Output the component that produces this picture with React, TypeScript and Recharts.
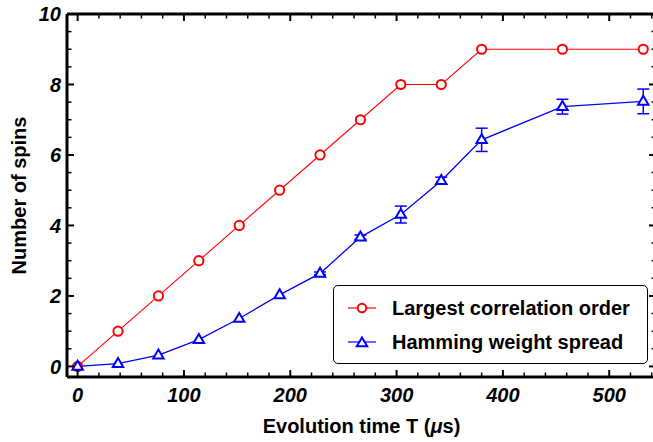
import React from 'react';
import { ComposedChart, Line, XAxis, YAxis, ErrorBar, Legend } from 'recharts';

// ---- data ----
const TIMES = [0, 38, 76, 114, 152, 190, 228, 266, 304, 342, 380, 456, 532];
const LARGEST_ORDER = [0, 1, 2, 3, 4, 5, 6, 7, 8, 8, 9, 9, 9];
const HAMMING_SPREAD = [0, 0.08, 0.32, 0.76, 1.36, 2.03, 2.64, 3.67, 4.31, 5.27, 6.43, 7.37, 7.52];
const HAMMING_ERR = [0, 0, 0, 0, 0, 0, 0.04, 0.06, 0.24, 0.1, 0.33, 0.21, 0.35];

const SERIES_NAMES = ['Largest correlation order', 'Hamming weight spread'];

const X_MAJOR_TICKS = [0, 100, 200, 300, 400, 500];
const X_MINOR_TICKS = [20, 40, 60, 80, 120, 140, 160, 180, 220, 240, 260, 280, 320, 340, 360, 380, 420, 440, 460, 480, 520, 540];
const Y_MAJOR_TICKS = [0, 2, 4, 6, 8, 10];
const Y_MINOR_TICKS = [0.5, 1, 1.5, 2.5, 3, 3.5, 4.5, 5, 5.5, 6.5, 7, 7.5, 8.5, 9, 9.5];

const X_DOMAIN = [-10, 544];
const Y_DOMAIN = [-0.3, 10];

const RED = '#ff0000';
const BLUE = '#0000ff';
const FONT = '"Liberation Sans", Arial, sans-serif';
const FS = 20;

const data = TIMES.map((t, i) => ({
  t,
  order: LARGEST_ORDER[i],
  spread: HAMMING_SPREAD[i],
  err: HAMMING_ERR[i],
}));

const X_ALL = [...X_MAJOR_TICKS, ...X_MINOR_TICKS].sort((a, b) => a - b);
const Y_ALL = [...Y_MAJOR_TICKS, ...Y_MINOR_TICKS].sort((a, b) => a - b);

const makeTick = (side: string, majors: number[]) => (props: any) => {
  const { x, y, payload } = props;
  const v = payload.value;
  const major = majors.includes(v);
  const len = major ? 7 : 4.5;
  const common = { stroke: '#000', strokeWidth: major ? 2 : 1.5 };
  if (side === 'bottom') {
    return (
      <g>
        <line x1={x} y1={y} x2={x} y2={y - len} {...common} />
        {major && (
          <text x={x} y={y + 25} textAnchor="middle" fontFamily={FONT} fontSize={FS} fontWeight="bold" fontStyle="italic" fill="#000">
            {v}
          </text>
        )}
      </g>
    );
  }
  if (side === 'top') {
    return <line x1={x} y1={y} x2={x} y2={y + len} {...common} />;
  }
  if (side === 'left') {
    return (
      <g>
        <line x1={x} y1={y} x2={x + len} y2={y} {...common} />
        {major && (
          <text x={x - 6} y={y} dy="0.36em" textAnchor="end" fontFamily={FONT} fontSize={FS} fontWeight="bold" fontStyle="italic" fill="#000">
            {v}
          </text>
        )}
      </g>
    );
  }
  return <line x1={x} y1={y} x2={x - len} y2={y} {...common} />;
};

const CircleDot = (props: any) => {
  const { cx, cy, index } = props;
  if (cx == null || cy == null) return <g key={`c-${index}`} />;
  return <circle key={`c-${index}`} cx={cx} cy={cy} r={4.6} fill="#fff" stroke={RED} strokeWidth={2} />;
};

const trianglePoints = (cx: number, cy: number) =>
  `${cx},${cy - 5.6} ${cx + 5.2},${cy + 3.3} ${cx - 5.2},${cy + 3.3}`;

const TriangleDot = (props: any) => {
  const { cx, cy, index } = props;
  if (cx == null || cy == null) return <g key={`t-${index}`} />;
  return <polygon key={`t-${index}`} points={trianglePoints(cx, cy)} fill="#fff" stroke={BLUE} strokeWidth={2} strokeLinejoin="miter" />;
};

const renderLegend = (props: any) => {
  const payload = [...(props.payload || [])].sort(
    (a: any, b: any) => SERIES_NAMES.indexOf(a.value) - SERIES_NAMES.indexOf(b.value)
  );
  return (
    <div
      style={{
        position: 'relative',
        width: 315,
        height: 79,
        border: '1.5px solid #000',
        borderRadius: 5,
        background: '#fff',
        boxSizing: 'border-box',
        fontFamily: FONT,
        fontWeight: 'bold',
        fontSize: FS,
        color: '#000',
      }}
    >
      {payload.map((entry: any, i: number) => {
        const isRed = entry.dataKey === 'order';
        const color = isRed ? RED : BLUE;
        return (
          <div
            key={`leg-${i}`}
            style={{ position: 'absolute', left: 0, top: (i === 0 ? 22 : 56) - 12, height: 24, display: 'flex', alignItems: 'center', whiteSpace: 'nowrap' }}
          >
            <svg width={58} height={24} style={{ display: 'block' }}>
              <line x1={14} y1={12} x2={42} y2={12} stroke={color} strokeWidth={1.2} />
              {isRed ? (
                <circle cx={28} cy={12} r={4.3} fill="#fff" stroke={RED} strokeWidth={2} />
              ) : (
                <polygon points={trianglePoints(28, 13)} fill="#fff" stroke={BLUE} strokeWidth={2} />
              )}
            </svg>
            <span style={{ lineHeight: '24px' }}>{entry.value}</span>
          </div>
        );
      })}
    </div>
  );
};

const YLabel = (props: any) => {
  const vb = props.viewBox || {};
  const cy = vb.y + vb.height / 2;
  const x = 26;
  return (
    <text x={x} y={cy} transform={`rotate(-90, ${x}, ${cy})`} textAnchor="middle" fontFamily={FONT} fontSize={FS} fontWeight="bold" fill="#000">
      Number of spins
    </text>
  );
};

const XLabel = (props: any) => {
  const vb = props.viewBox || {};
  const cx = vb.x + vb.width / 2;
  return (
    <text x={cx} y={vb.y + 56} textAnchor="middle" fontFamily={FONT} fontSize={FS} fontWeight="bold" fill="#000">
      Evolution time T (<tspan fontStyle="italic">μ</tspan>s)
    </text>
  );
};

export default function App() {
  return (
    <div style={{ position: 'absolute', left: 0, top: 0, width: 653, height: 442, overflow: 'hidden', background: '#fff' }}>
      <ComposedChart width={660} height={442} data={data} margin={{ top: 13, right: 3, bottom: 5, left: 0 }}>
        <XAxis
          dataKey="t"
          type="number"
          domain={X_DOMAIN}
          allowDataOverflow
          ticks={X_ALL}
          interval={0}
          tickSize={0}
          tickMargin={0}
          height={60}
          axisLine={{ stroke: '#000', strokeWidth: 3 }}
          tickLine={false}
          tick={makeTick('bottom', X_MAJOR_TICKS)}
          label={<XLabel />}
        />
        <XAxis
          xAxisId="top"
          orientation="top"
          dataKey="t"
          type="number"
          domain={X_DOMAIN}
          allowDataOverflow
          ticks={X_ALL}
          interval={0}
          tickSize={0}
          tickMargin={0}
          height={1}
          axisLine={{ stroke: '#000', strokeWidth: 3 }}
          tickLine={false}
          tick={makeTick('top', X_MAJOR_TICKS)}
        />
        <YAxis
          type="number"
          domain={Y_DOMAIN}
          allowDataOverflow
          ticks={Y_ALL}
          interval={0}
          tickSize={0}
          tickMargin={0}
          width={67}
          axisLine={{ stroke: '#000', strokeWidth: 3 }}
          tickLine={false}
          tick={makeTick('left', Y_MAJOR_TICKS)}
          label={<YLabel />}
        />
        <YAxis
          yAxisId="right"
          orientation="right"
          type="number"
          domain={Y_DOMAIN}
          allowDataOverflow
          ticks={Y_ALL}
          interval={0}
          tickSize={0}
          tickMargin={0}
          width={1}
          axisLine={{ stroke: '#000', strokeWidth: 3 }}
          tickLine={false}
          tick={makeTick('right', Y_MAJOR_TICKS)}
        />
        <Legend
          layout="vertical"
          align="center"
          verticalAlign="middle"
          content={renderLegend}
          wrapperStyle={{ position: 'absolute', left: 333, top: 285, width: 315, height: 79 }}
        />
        <Line
          dataKey="order"
          name={SERIES_NAMES[0]}
          stroke={RED}
          strokeWidth={1.1}
          dot={CircleDot}
          activeDot={false}
          isAnimationActive={false}
        />
        <Line
          dataKey="spread"
          name={SERIES_NAMES[1]}
          stroke={BLUE}
          strokeWidth={1.3}
          dot={TriangleDot}
          activeDot={false}
          isAnimationActive={false}
        >
          <ErrorBar dataKey="err" direction="y" width={6} stroke={BLUE} strokeWidth={1.5} />
        </Line>
      </ComposedChart>
    </div>
  );
}
